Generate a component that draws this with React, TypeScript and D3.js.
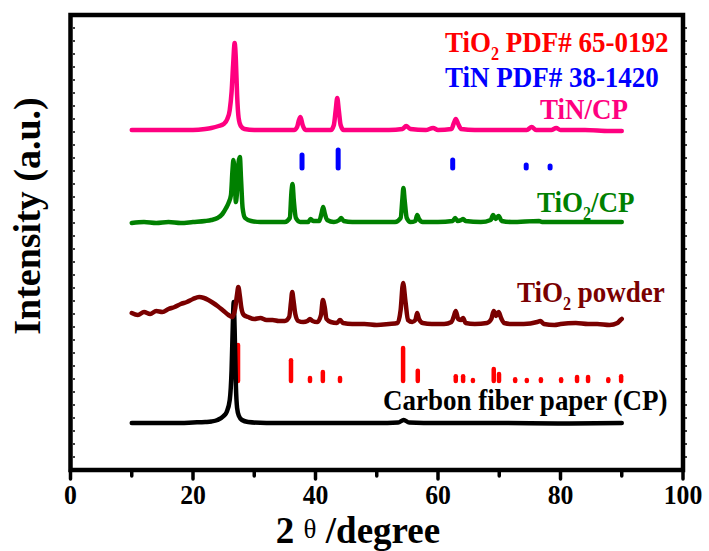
import React from "react";
import * as d3 from "d3";

type P = [number, number];

// 2θ (degree), intensity (a.u., stacked offsets)
const cpTrace: P[] = [[10,47],[14,47],[18,47],[20,47.5],[22,48],[23,48.5],[24,50],[25,54],[25.5,58],[26,70],[26.3,100],[26.5,145],[26.65,168],[26.8,140],[27.0,85],[27.2,62],[27.5,54],[28,50],[29,48],[32,47],[40,47],[50,47],[53.5,47.5],[54.4,50],[55.3,47.5],[60,47],[70,47],[80,46.5],[90,47]];

const powderTrace: P[] = [[10,157],[11,155],[12,158],[13,156],[14,159],[15,158],[16,161],[17,163],[18,166],[19,168],[20,171],[21,173],[21.8,172],[22.5,170],[23.3,167],[24,164],[25,159],[25.8,155],[26.4,153],[26.9,162],[27.2,176],[27.4,183],[27.65,174],[27.9,162],[28.3,155],[29,153],[30,151],[31,152],[32,150],[33,150],[34,149],[35,149],[35.7,153],[36.0,168],[36.2,178],[36.4,170],[36.7,156],[37.2,149],[38,148],[38.7,149],[39.1,151],[39.5,149],[40.3,148],[40.9,155],[41.2,170],[41.5,163],[41.8,151],[42.5,148],[43.5,147],[44.0,150],[44.5,147],[46,146],[48,146],[50,145],[52,146],[53.4,147],[53.9,160],[54.3,187],[54.7,168],[55.1,150],[55.8,148],[56.3,150],[56.6,157],[56.9,151],[57.5,147],[59,146],[61,146],[62.2,148],[62.6,154],[62.9,159],[63.3,151],[63.8,150],[64.1,152],[64.5,147],[66,146],[68,147],[68.7,151],[69.1,159],[69.5,154],[69.9,158],[70.3,152],[70.8,147],[72,146],[74,146],[76.2,148],[76.7,149],[77.3,146],[79,145],[80,146],[82.5,147],[84.5,146],[86,146],[88,145],[89.3,147],[89.8,150],[90,151]];

const tio2cpTrace: P[] = [[10,247],[12,248],[14,247],[16,248],[18,247],[20,248],[22,249],[23,250],[24,252],[24.8,256],[25.4,262],[25.8,267],[26.2,275],[26.45,300],[26.6,310],[26.8,295],[27.0,268],[27.15,275],[27.45,308],[27.65,313],[27.85,290],[28.1,262],[28.5,252],[29.5,249],[31,248],[33,248],[35,248],[35.8,252],[36.1,280],[36.25,286],[36.45,270],[36.8,252],[37.5,248],[38.8,248],[39.2,251],[39.6,249],[40.6,249],[41.0,257],[41.25,263],[41.5,257],[41.9,250],[43,248],[43.9,250],[44.2,252],[44.6,249],[46,248],[50,248],[53,248],[53.9,252],[54.2,272],[54.35,282],[54.55,270],[54.9,252],[55.5,248],[56.3,249],[56.6,255],[56.9,251],[57.5,248],[60,248],[62.4,249],[62.8,252],[63.2,249],[63.8,250],[64.1,251],[64.5,249],[67,248],[68.6,250],[69.0,255],[69.4,251],[69.9,254],[70.4,249],[72,248],[76.5,249],[77,248],[80,248],[84,248],[88,248],[90,248]];

const tincpTrace: P[] = [[10,340],[14,340],[18,340],[20,340],[22,341],[23,342],[24.2,344],[25,346],[25.6,351],[26.0,360],[26.3,378],[26.55,405],[26.8,427],[27.0,410],[27.2,375],[27.45,352],[27.8,344],[28.4,341],[30,340],[34,340],[36.5,340],[37.0,343],[37.3,350],[37.55,353],[37.9,345],[38.4,340],[40,340],[42.5,340],[43.0,345],[43.3,360],[43.55,372],[43.8,360],[44.1,345],[44.6,340],[48,340],[52,340],[54.2,341],[54.8,344],[55.5,341],[58,340],[59.2,342],[60,340],[62.2,341],[62.6,347],[62.9,351],[63.3,346],[63.8,341],[66,340],[70,340],[74.5,340],[75.3,343],[76,340],[78.5,340],[79.3,342],[80,340],[84,340],[88,339],[90,339]];

// Reference patterns: 2θ and relative intensity (%)
const tio2Pos = [27.35, 36.0, 39.1, 41.2, 44.0, 54.3, 56.7, 62.9, 64.1, 65.7, 69.1, 69.96, 72.6, 74.5, 76.8, 80.1, 82.7, 84.5, 87.8, 89.9];
const tio2Rel = [100, 60, 13, 29, 13, 92, 32, 18, 18, 8, 37, 24, 10, 8, 10, 10, 16, 16, 10, 18];
const tinPos = [37.8, 43.7, 62.4, 74.4, 78.3];
const tinRel = [75, 100, 50, 25, 20];

const xTicksMajor = [0, 20, 40, 60, 80, 100];
const xTicksMinor = [10, 30, 50, 70, 90];

// label parts: [text, isSubscript]
type Part = [string, boolean];
const lblTiO2PDF: Part[] = [["TiO", false], ["2", true], [" PDF# 65-0192", false]];
const lblTiNPDF: Part[] = [["TiN PDF# 38-1420", false]];
const lblTiNCP: Part[] = [["TiN/CP", false]];
const lblTiO2CP: Part[] = [["TiO", false], ["2", true], ["/CP", false]];
const lblPowder: Part[] = [["TiO", false], ["2", true], [" powder", false]];
const lblCP: Part[] = [["Carbon fiber paper (CP)", false]];

const W = 709, H = 551;
const FONT = "'Liberation Serif', 'Times New Roman', Times, serif";

export default function App() {
  const x = d3.scaleLinear().domain([0, 100]).range([70.5, 683]);
  const y = d3.scaleLinear().domain([0, 455]).range([470, 15]);
  const line = d3.line<P>().x(d => x(d[0])).y(d => y(d[1])).curve(d3.curveMonotoneX);
  const tio2Stick = d3.scaleLinear().domain([0, 100]).range([89, 127]);
  const tinStick = d3.scaleLinear().domain([0, 100]).range([302, 322]);
  const sideTicks = d3.range(13, 455, 13);

  const traces: { d: P[]; c: string }[] = [
    { d: cpTrace, c: "#000000" },
    { d: powderTrace, c: "#7a0000" },
    { d: tio2cpTrace, c: "#008000" },
    { d: tincpTrace, c: "#ff0080" },
  ];

  const lbl = (tx: number, ty: number, fill: string, parts: Part[]) => {
    let prevSub = false;
    return (
      <text transform={`translate(${tx},${ty}) scale(0.9,1)`} fill={fill} fontSize={30} fontWeight="bold" fontFamily={FONT}>
        {parts.map(([s, isSub], i) => {
          const dy = isSub ? 8 : prevSub ? -8 : 0;
          prevSub = isSub;
          return (
            <tspan key={i} dy={dy} fontSize={isSub ? 18 : 30}>{s}</tspan>
          );
        })}
      </text>
    );
  };

  return (
    <svg width={W} height={H} style={{ position: "absolute", left: 0, top: 0, background: "#fff" }}>
      <rect x={0} y={0} width={W} height={H} fill="#fff" />
      {tio2Pos.map((p, i) => (
        <line key={"r" + i} x1={x(p)} x2={x(p)} y1={y(tio2Stick(0))} y2={y(tio2Stick(tio2Rel[i])) + 2}
          stroke="#ff0000" strokeWidth={4.5} strokeLinecap="round" />
      ))}
      {tinPos.map((p, i) => (
        <line key={"b" + i} x1={x(p)} x2={x(p)} y1={y(tinStick(0))} y2={y(tinStick(tinRel[i])) + 2}
          stroke="#0000ff" strokeWidth={5} strokeLinecap="round" />
      ))}
      {traces.map((t, i) => (
        <path key={i} d={line(t.d) || ""} fill="none" stroke={t.c} strokeWidth={4.5}
          strokeLinejoin="round" strokeLinecap="round" />
      ))}
      <rect x={70.5} y={15} width={683 - 70.5} height={455} fill="none" stroke="#000" strokeWidth={4.5} />
      {sideTicks.map((v, i) => (
        <g key={"s" + i}>
          <line x1={73} x2={75} y1={y(v)} y2={y(v)} stroke="#000" strokeWidth={1.5} />
          <line x1={685} x2={687} y1={y(v)} y2={y(v)} stroke="#000" strokeWidth={1.5} />
        </g>
      ))}
      {xTicksMajor.map(t => (
        <g key={"M" + t}>
          <line x1={x(t)} x2={x(t)} y1={470} y2={479} stroke="#000" strokeWidth={3.5} strokeLinecap="round" />
          <text transform={`translate(${x(t)},504) scale(0.92,1)`} textAnchor="middle" fontSize={28}
            fontWeight="bold" fontFamily={FONT}>{t}</text>
        </g>
      ))}
      {xTicksMinor.map(t => (
        <line key={"m" + t} x1={x(t)} x2={x(t)} y1={470} y2={476} stroke="#000" strokeWidth={3.5} strokeLinecap="round" />
      ))}
      <text transform="translate(40,216) rotate(-90)" textAnchor="middle" fontSize={38} fontWeight="bold"
        fontFamily={FONT}>Intensity (a.u.)</text>
      <text transform="translate(358,543)" textAnchor="middle" fontSize={37} fontWeight="bold" fontFamily={FONT}>
        <tspan>2 </tspan>
        <tspan fontSize={27} fontWeight="normal" dy={-5}>θ</tspan>
        <tspan dy={5}> /degree</tspan>
      </text>
      {lbl(445, 52, "#ff0000", lblTiO2PDF)}
      {lbl(445, 87, "#0000ff", lblTiNPDF)}
      {lbl(540, 119, "#ff0080", lblTiNCP)}
      {lbl(537, 212, "#008000", lblTiO2CP)}
      {lbl(517, 302, "#7a0000", lblPowder)}
      {lbl(383, 410, "#000000", lblCP)}
    </svg>
  );
}
